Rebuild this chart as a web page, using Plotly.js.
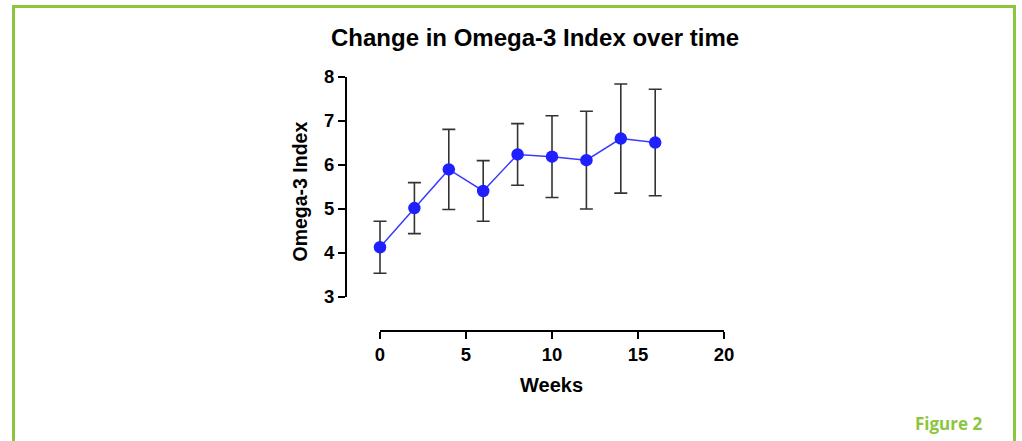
<!DOCTYPE html>
<html>
<head>
<meta charset="utf-8">
<script src="https://cdn.plot.ly/plotly-3.0.1.min.js"></script>
<style>html,body{margin:0;padding:0;background:#fff;}#chart{width:1022px;height:441px;}</style>
</head>
<body>
<div id="chart"></div>
<script>
// Data
const weeks = [0, 2, 4, 6, 8, 10, 12, 14, 16];
const omega3Index = [4.13, 5.02, 5.90, 5.41, 6.24, 6.19, 6.11, 6.60, 6.51];
const errorSD = [0.59, 0.58, 0.91, 0.69, 0.70, 0.93, 1.11, 1.24, 1.21];
const xTicks = [0, 5, 10, 15, 20];
const yTicks = [3, 4, 5, 6, 7, 8];
const chartTitle = 'Change in Omega-3 Index over time';
const xTitle = 'Weeks';
const yTitle = 'Omega-3 Index';
const figureLabel = 'Figure 2';

const W = 1022, H = 441;
const px = v => v / W;
const py = v => 1 - v / H;

const green = '#8cc63f';
const font = 'Liberation Sans, Arial, sans-serif';

const trace = {
  x: weeks,
  y: omega3Index,
  type: 'scatter',
  mode: 'lines+markers',
  line: {color: '#3a3aff', width: 1.5},
  marker: {color: '#1f1fff', size: 12.5},
  error_y: {type: 'data', array: errorSD, visible: true, color: '#333333', thickness: 1.6, width: 6.5},
  cliponaxis: false,
  hoverinfo: 'none'
};

const xPad = 0.6;
const xScale = (724 - 380) / 20;

const layout = {
  width: W, height: H,
  margin: {l: 0, r: 0, t: 0, b: 0},
  paper_bgcolor: '#ffffff',
  plot_bgcolor: 'rgba(0,0,0,0)',
  showlegend: false,
  font: {family: font, color: '#000'},
  xaxis: {
    domain: [px(380 - xPad * xScale), px(724)],
    range: [-xPad, 20],
    anchor: 'free',
    position: py(331),
    tickvals: xTicks,
    ticktext: xTicks.map(String),
    ticks: 'outside', ticklen: 7, tickwidth: 2, tickcolor: '#000',
    showline: false,
    showgrid: false, zeroline: false,
    tickfont: {family: font, size: 18.5, color: '#000', weight: 'bold'}
  },
  yaxis: {
    domain: [py(297), py(77)],
    range: [3, 8],
    anchor: 'free',
    position: px(346),
    tickvals: yTicks,
    ticktext: yTicks.map(String),
    ticks: 'outside', ticklen: 7, tickwidth: 2, tickcolor: '#000',
    showline: true, linecolor: '#000', linewidth: 2,
    showgrid: false, zeroline: false,
    tickfont: {family: font, size: 18.5, color: '#000', weight: 'bold'}
  },
  annotations: [
    {text: chartTitle, xref: 'paper', yref: 'paper', x: px(534.5), y: py(37), xanchor: 'center', yanchor: 'middle', showarrow: false,
     font: {family: font, size: 24, color: '#000', weight: 'bold'}},
    {text: xTitle, xref: 'paper', yref: 'paper', x: px(551), y: py(385), xanchor: 'center', yanchor: 'middle', showarrow: false,
     font: {family: font, size: 20, color: '#000', weight: 'bold'}},
    {text: yTitle, xref: 'paper', yref: 'paper', x: px(299.5), y: py(192), xanchor: 'center', yanchor: 'middle', showarrow: false, textangle: -90,
     font: {family: font, size: 19.5, color: '#000', weight: 'bold'}},
    {text: figureLabel, xref: 'paper', yref: 'paper', x: px(984), y: py(423), xanchor: 'right', yanchor: 'middle', showarrow: false,
     font: {family: 'Open Sans, sans-serif', size: 17, color: green, weight: 700}}
  ],
  shapes: [
    {type: 'line', xref: 'x', yref: 'paper', x0: xTicks[0], x1: xTicks[xTicks.length - 1], y0: py(331), y1: py(331), line: {color: '#000', width: 2}},
    {type: 'line', xref: 'paper', yref: 'paper', x0: px(13.5), x1: px(13.5), y0: py(5), y1: py(445), line: {color: green, width: 3}},
    {type: 'line', xref: 'paper', yref: 'paper', x0: px(1014.5), x1: px(1014.5), y0: py(5), y1: py(445), line: {color: green, width: 3}},
    {type: 'line', xref: 'paper', yref: 'paper', x0: px(12), x1: px(1016), y0: py(6.5), y1: py(6.5), line: {color: green, width: 3}}
  ]
};

Plotly.newPlot('chart', [trace], layout, {displayModeBar: false, staticPlot: true});
</script>
</body>
</html>
